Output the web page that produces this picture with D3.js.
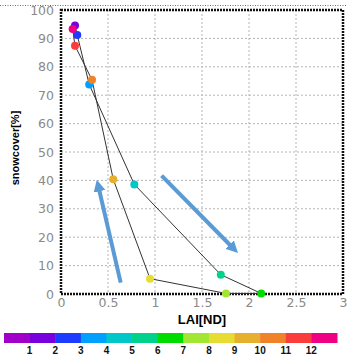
<!DOCTYPE html>
<html><head><meta charset="utf-8">
<script src="https://cdn.jsdelivr.net/npm/d3@7"></script>
<style>body{margin:0;background:#fff}svg{display:block}</style>
</head><body>
<script>
const months = [1,2,3,4,5,6,7,8,9,10,11,12];
const lai = [0.149, 0.173, 0.30, 0.78, 1.70, 2.13, 1.755, 0.947, 0.556, 0.33, 0.149, 0.124];
const snow = [94.5, 91.2, 73.8, 38.6, 6.8, 0.2, 0.2, 5.4, 40.4, 75.4, 87.4, 93.3];
const colorbarColors = ["#a000c8","#7800dc","#1e3cff","#00a0ff","#00c8c8","#00d28c","#00dc00","#a0e632","#e6dc32","#e6af2d","#f08228","#fa3c3c","#f00082"];
const colorbarLabels = ["1","2","3","4","5","6","7","8","9","10","11","12"];
const xTicks = [0,0.5,1,1.5,2,2.5,3];
const yTicks = [0,10,20,30,40,50,60,70,80,90,100];
const arrows = [ {x1:0.635,y1:4.0,x2:0.38,y2:40.4}, {x1:1.07,y1:41.7,x2:1.886,y2:14.3} ];

const W=347,H=358;
const svg=d3.select("body").append("svg").attr("width",W).attr("height",H);
const x=d3.scaleLinear().domain([0,3]).range([61,343]);
const y=d3.scaleLinear().domain([0,100]).range([294,10]);

// top dotted line
svg.append("line").attr("x1",0).attr("x2",W).attr("y1",5.5).attr("y2",5.5)
  .attr("stroke","#7a5a9a").attr("stroke-width",1).attr("stroke-dasharray","1,1.5");

// grid
const g=svg.append("g");
g.selectAll(".gx").data(xTicks.slice(1,-1)).enter().append("line")
  .attr("x1",d=>x(d)).attr("x2",d=>x(d)).attr("y1",y(100)).attr("y2",y(0))
  .attr("stroke","#b4b4b4").attr("stroke-width",1).attr("stroke-dasharray","2,2");
g.selectAll(".gy").data(yTicks.slice(1,-1)).enter().append("line")
  .attr("y1",d=>y(d)).attr("y2",d=>y(d)).attr("x1",x(0)).attr("x2",x(3))
  .attr("stroke","#b4b4b4").attr("stroke-width",1).attr("stroke-dasharray","2,2");

// axes (labels only)
const xAxis=d3.axisBottom(x).tickValues(xTicks).tickSize(0).tickPadding(4).tickFormat(d=>String(d));
const yAxis=d3.axisLeft(y).tickValues(yTicks).tickSize(0).tickPadding(7).tickFormat(d=>String(d));
const ax=svg.append("g").attr("transform",`translate(0,${y(0)})`).call(xAxis);
const ay=svg.append("g").attr("transform",`translate(${x(0)},0)`).call(yAxis);
[ax,ay].forEach(a=>{a.select(".domain").remove();
  a.selectAll("text").attr("fill","#8a8a8a").style("font-family","DejaVu Sans").style("font-size","12.5px");});

// frame
svg.append("rect").attr("x",x(0)).attr("y",y(100)).attr("width",x(3)-x(0)).attr("height",y(0)-y(100))
  .attr("fill","none").attr("stroke","#111").attr("stroke-width",2.5).attr("stroke-dasharray","2,1");

// path
const pts=months.map((m,i)=>({m,x:lai[i],y:snow[i]}));
svg.append("path").datum(pts.concat([pts[0]]))
  .attr("d",d3.line().x(d=>x(d.x)).y(d=>y(d.y)))
  .attr("fill","none").attr("stroke","#333").attr("stroke-width",1);

// arrows
const defs=svg.append("defs");
defs.append("marker").attr("id","ah").attr("viewBox","0 0 10 10").attr("refX",2).attr("refY",5)
  .attr("markerWidth",3).attr("markerHeight",3).attr("orient","auto")
  .append("path").attr("d","M0,0L10,5L0,10z").attr("fill","#5b9bd5");
svg.selectAll(".arr").data(arrows).enter().append("line")
  .attr("x1",d=>x(d.x1)).attr("y1",d=>y(d.y1))
  .attr("x2",d=>{const dx=x(d.x2)-x(d.x1),dy=y(d.y2)-y(d.y1),L=Math.hypot(dx,dy);return x(d.x2)-dx/L*10;})
  .attr("y2",d=>{const dx=x(d.x2)-x(d.x1),dy=y(d.y2)-y(d.y1),L=Math.hypot(dx,dy);return y(d.y2)-dy/L*10;})
  .attr("stroke","#5b9bd5").attr("stroke-width",4).attr("marker-end","url(#ah)");

// dots
svg.selectAll(".dot").data(pts).enter().append("circle")
  .attr("cx",d=>x(d.x)).attr("cy",d=>y(d.y)).attr("r",4)
  .attr("fill",d=>colorbarColors[d.m]);

// labels
svg.append("text").attr("x",(x(0)+x(3))/2).attr("y",324).attr("text-anchor","middle")
  .style("font-family","Liberation Sans, Arial").style("font-weight","bold").style("font-size","13px").text("LAI[ND]");
svg.append("text").attr("transform","translate(19,148) rotate(-90)").attr("text-anchor","middle")
  .style("font-family","Liberation Sans, Arial").style("font-weight","bold").style("font-size","11px").text("snowcover[%]");

// colorbar
const cb=d3.scaleBand().domain(d3.range(colorbarColors.length)).range([4,337]).padding(0);
svg.selectAll(".cb").data(colorbarColors).enter().append("rect")
  .attr("x",(d,i)=>cb(i)).attr("y",333).attr("width",cb.bandwidth()+0.5).attr("height",10).attr("fill",d=>d);
svg.selectAll(".cbl").data(colorbarLabels).enter().append("text")
  .attr("x",(d,i)=>cb(i+1)).attr("y",354).attr("text-anchor","middle")
  .style("font-family","Liberation Sans, Arial").style("font-weight","bold").style("font-size","10px").attr("fill","#111").text(d=>d);
</script>
</body></html>
